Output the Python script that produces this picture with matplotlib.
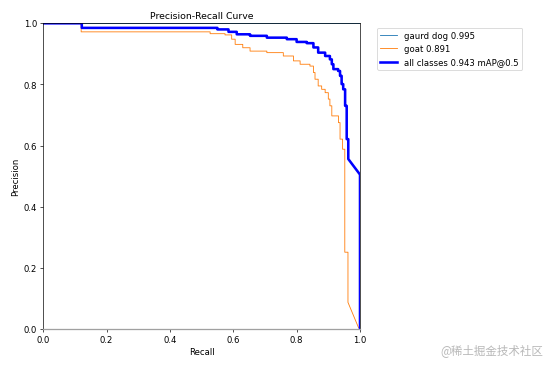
import matplotlib
matplotlib.use('Agg')
import matplotlib.pyplot as plt

# gaurd dog: precision stays ~1 until recall 1
dog_recall = [0.0, 1.0, 1.0]
dog_precision = [1.0, 1.0, 0.0]

# goat curve: stepped part, then straight tail
goat_recall = [0.0, 0.12, 0.527, 0.574, 0.595, 0.606, 0.63, 0.653, 0.706,
               0.758, 0.79, 0.811, 0.842, 0.853, 0.858, 0.868, 0.879, 0.890,
               0.900, 0.905, 0.911, 0.932, 0.937, 0.945, 0.952, 0.962]
goat_precision = [1.0, 0.972, 0.966, 0.962, 0.948, 0.931, 0.92, 0.909, 0.904,
                  0.893, 0.877, 0.866, 0.860, 0.839, 0.817, 0.795, 0.784, 0.773,
                  0.752, 0.730, 0.697, 0.675, 0.621, 0.588, 0.251, 0.087]
goat_tail_recall = [0.995, 1.0]
goat_tail_precision = [0.005, 0.0]

# all classes
all_recall = [0.0, 0.122, 0.55, 0.585, 0.611, 0.653, 0.706, 0.769, 0.80,
              0.832, 0.853, 0.868, 0.890, 0.905, 0.911, 0.916, 0.931, 0.937,
              0.942, 0.947, 0.953, 0.958, 0.963]
all_precision = [1.0, 0.985, 0.980, 0.972, 0.964, 0.959, 0.953, 0.948, 0.939,
                 0.935, 0.921, 0.904, 0.893, 0.882, 0.866, 0.850, 0.844, 0.828,
                 0.801, 0.784, 0.730, 0.621, 0.556]
all_tail_recall = [1.0, 1.0]
all_tail_precision = [0.505, 0.0]

labels = ['gaurd dog 0.995', 'goat 0.891', 'all classes 0.943 mAP@0.5']


def staircase(r, p, tail_r, tail_p):
    # horizontal run to the next recall, then drop to the next precision
    xs, ys = [r[0]], [p[0]]
    for i in range(1, len(r)):
        xs += [r[i], r[i]]
        ys += [p[i - 1], p[i]]
    return xs + tail_r, ys + tail_p


fig, ax = plt.subplots(figsize=(9, 6), dpi=553 / 9)
fig.subplots_adjust(left=0.078, right=0.651, bottom=0.106, top=0.935)

gx, gy = staircase(goat_recall, goat_precision, goat_tail_recall, goat_tail_precision)
ax_, ay_ = staircase(all_recall, all_precision, all_tail_recall, all_tail_precision)

ax.plot(dog_recall, dog_precision, linewidth=1, label=labels[0])
ax.plot(gx, gy, linewidth=1, label=labels[1])
ax.plot(ax_, ay_, linewidth=3, color='blue', label=labels[2])

ax.spines['bottom'].set_color('#a0a0a0')
ax.spines['bottom'].set_linewidth(1.5)

ax.set_xlabel('Recall')
ax.set_ylabel('Precision')
ax.set_xlim(0, 1)
ax.set_ylim(0, 1)
ax.set_title('Precision-Recall Curve', fontsize=11)
ax.legend(bbox_to_anchor=(1.04, 1), loc='upper left')

fig.text(0.982, 0.049, '@稀土掘金技术社区', ha='right', va='center', fontsize=13.5,
         color='#b8b8b8', family=['Noto Sans CJK SC', 'DejaVu Sans'])

fig.savefig('out.png', dpi=553 / 9)
